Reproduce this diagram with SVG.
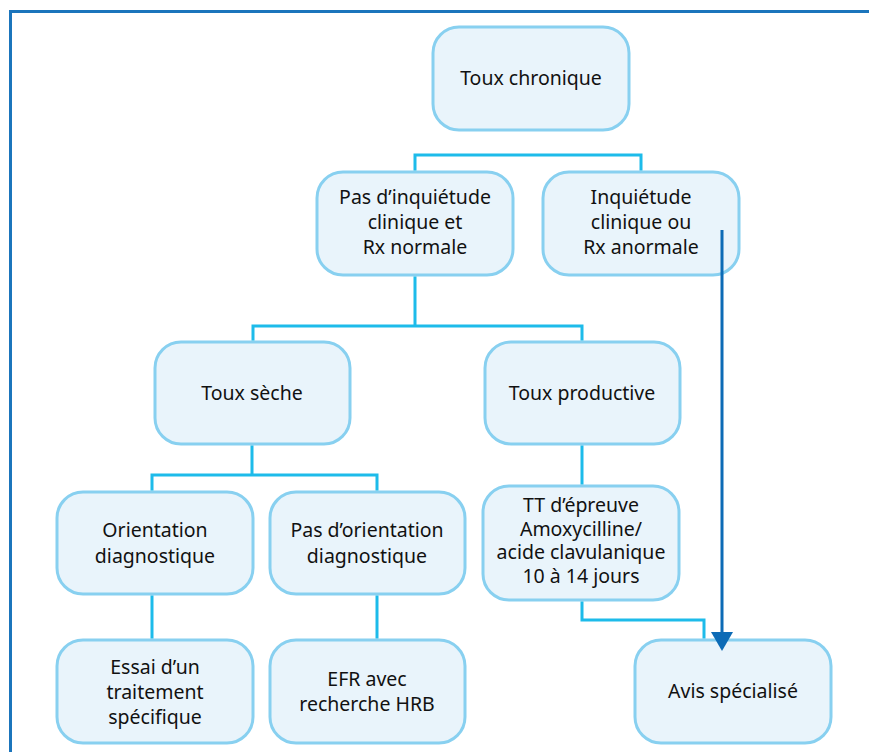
<svg xmlns="http://www.w3.org/2000/svg" width="869" height="752" viewBox="0 0 869 752">
<style>
.node rect{fill:#e9f4fb;stroke:#88d0f0;stroke-width:3}
.node text{font-family:"Noto Sans","Open Sans",sans-serif;font-size:19.5px;fill:#111;text-anchor:middle}
.conn{fill:none;stroke:#1dbbea;stroke-width:3}
.arrow{fill:none;stroke:#0c6bb6;stroke-width:3}
</style>
<rect width="869" height="752" fill="#fff"/>
<path d="M10.5,752 V11.5 H869" fill="none" stroke="#1b75bc" stroke-width="3"/>
<g id="n1" class="node"><rect x="433" y="27" width="196" height="103" rx="26"/><text x="531" y="85">Toux chronique</text></g>
<g id="n2" class="node"><rect x="317" y="172" width="196" height="103" rx="26"/><text x="415" y="204">Pas d’inquiétude</text><text x="415" y="229">clinique et</text><text x="415" y="254">Rx normale</text></g>
<g id="n3" class="node"><rect x="543" y="172" width="196" height="103" rx="26"/><text x="641" y="204">Inquiétude</text><text x="641" y="229">clinique ou</text><text x="641" y="254">Rx anormale</text></g>
<g id="n4" class="node"><rect x="155" y="342" width="195" height="102" rx="26"/><text x="252" y="400">Toux sèche</text></g>
<g id="n5" class="node"><rect x="485" y="342" width="195" height="102" rx="26"/><text x="582" y="400">Toux productive</text></g>
<g id="n6" class="node"><rect x="57" y="492" width="196" height="102" rx="26"/><text x="155" y="537">Orientation</text><text x="155" y="563">diagnostique</text></g>
<g id="n7" class="node"><rect x="270" y="492" width="195" height="102" rx="26"/><text x="367" y="537">Pas d’orientation</text><text x="367" y="563">diagnostique</text></g>
<g id="n8" class="node"><rect x="483" y="486" width="196" height="114" rx="26"/><text x="581" y="512">TT d’épreuve</text><text x="581" y="535.5">Amoxycilline/</text><text x="581" y="559">acide clavulanique</text><text x="581" y="582.5">10 à 14 jours</text></g>
<g id="n9" class="node"><rect x="57" y="640" width="196" height="103" rx="26"/><text x="155" y="674">Essai d’un</text><text x="155" y="699">traitement</text><text x="155" y="724">spécifique</text></g>
<g id="n10" class="node"><rect x="270" y="640" width="195" height="103" rx="26"/><text x="367" y="686">EFR avec</text><text x="367" y="711">recherche HRB</text></g>
<g id="n11" class="node"><rect x="635" y="640" width="196" height="103" rx="26"/><text x="733" y="698">Avis spécialisé</text></g>
<g id="connectors">
<path class="conn" d="M415,170.5 V155 H641 V170.5"/>
<path class="conn" d="M415,276.5 V326 H253 V340.5 M415,326 H582 V340.5"/>
<path class="conn" d="M252,445.5 V475 H152 V490.5 M252,475 H377 V490.5"/>
<path class="conn" d="M582,445.5 V484.5"/>
<path class="conn" d="M152,595.5 V638.5"/>
<path class="conn" d="M377,595.5 V638.5"/>
<path class="conn" d="M582,601.5 V620 H704 V638.5"/>
<path class="arrow" d="M722,230 V634"/>
<polygon points="711,632 733,632 722,651" fill="#0c6bb6"/>
</g>
</svg>
